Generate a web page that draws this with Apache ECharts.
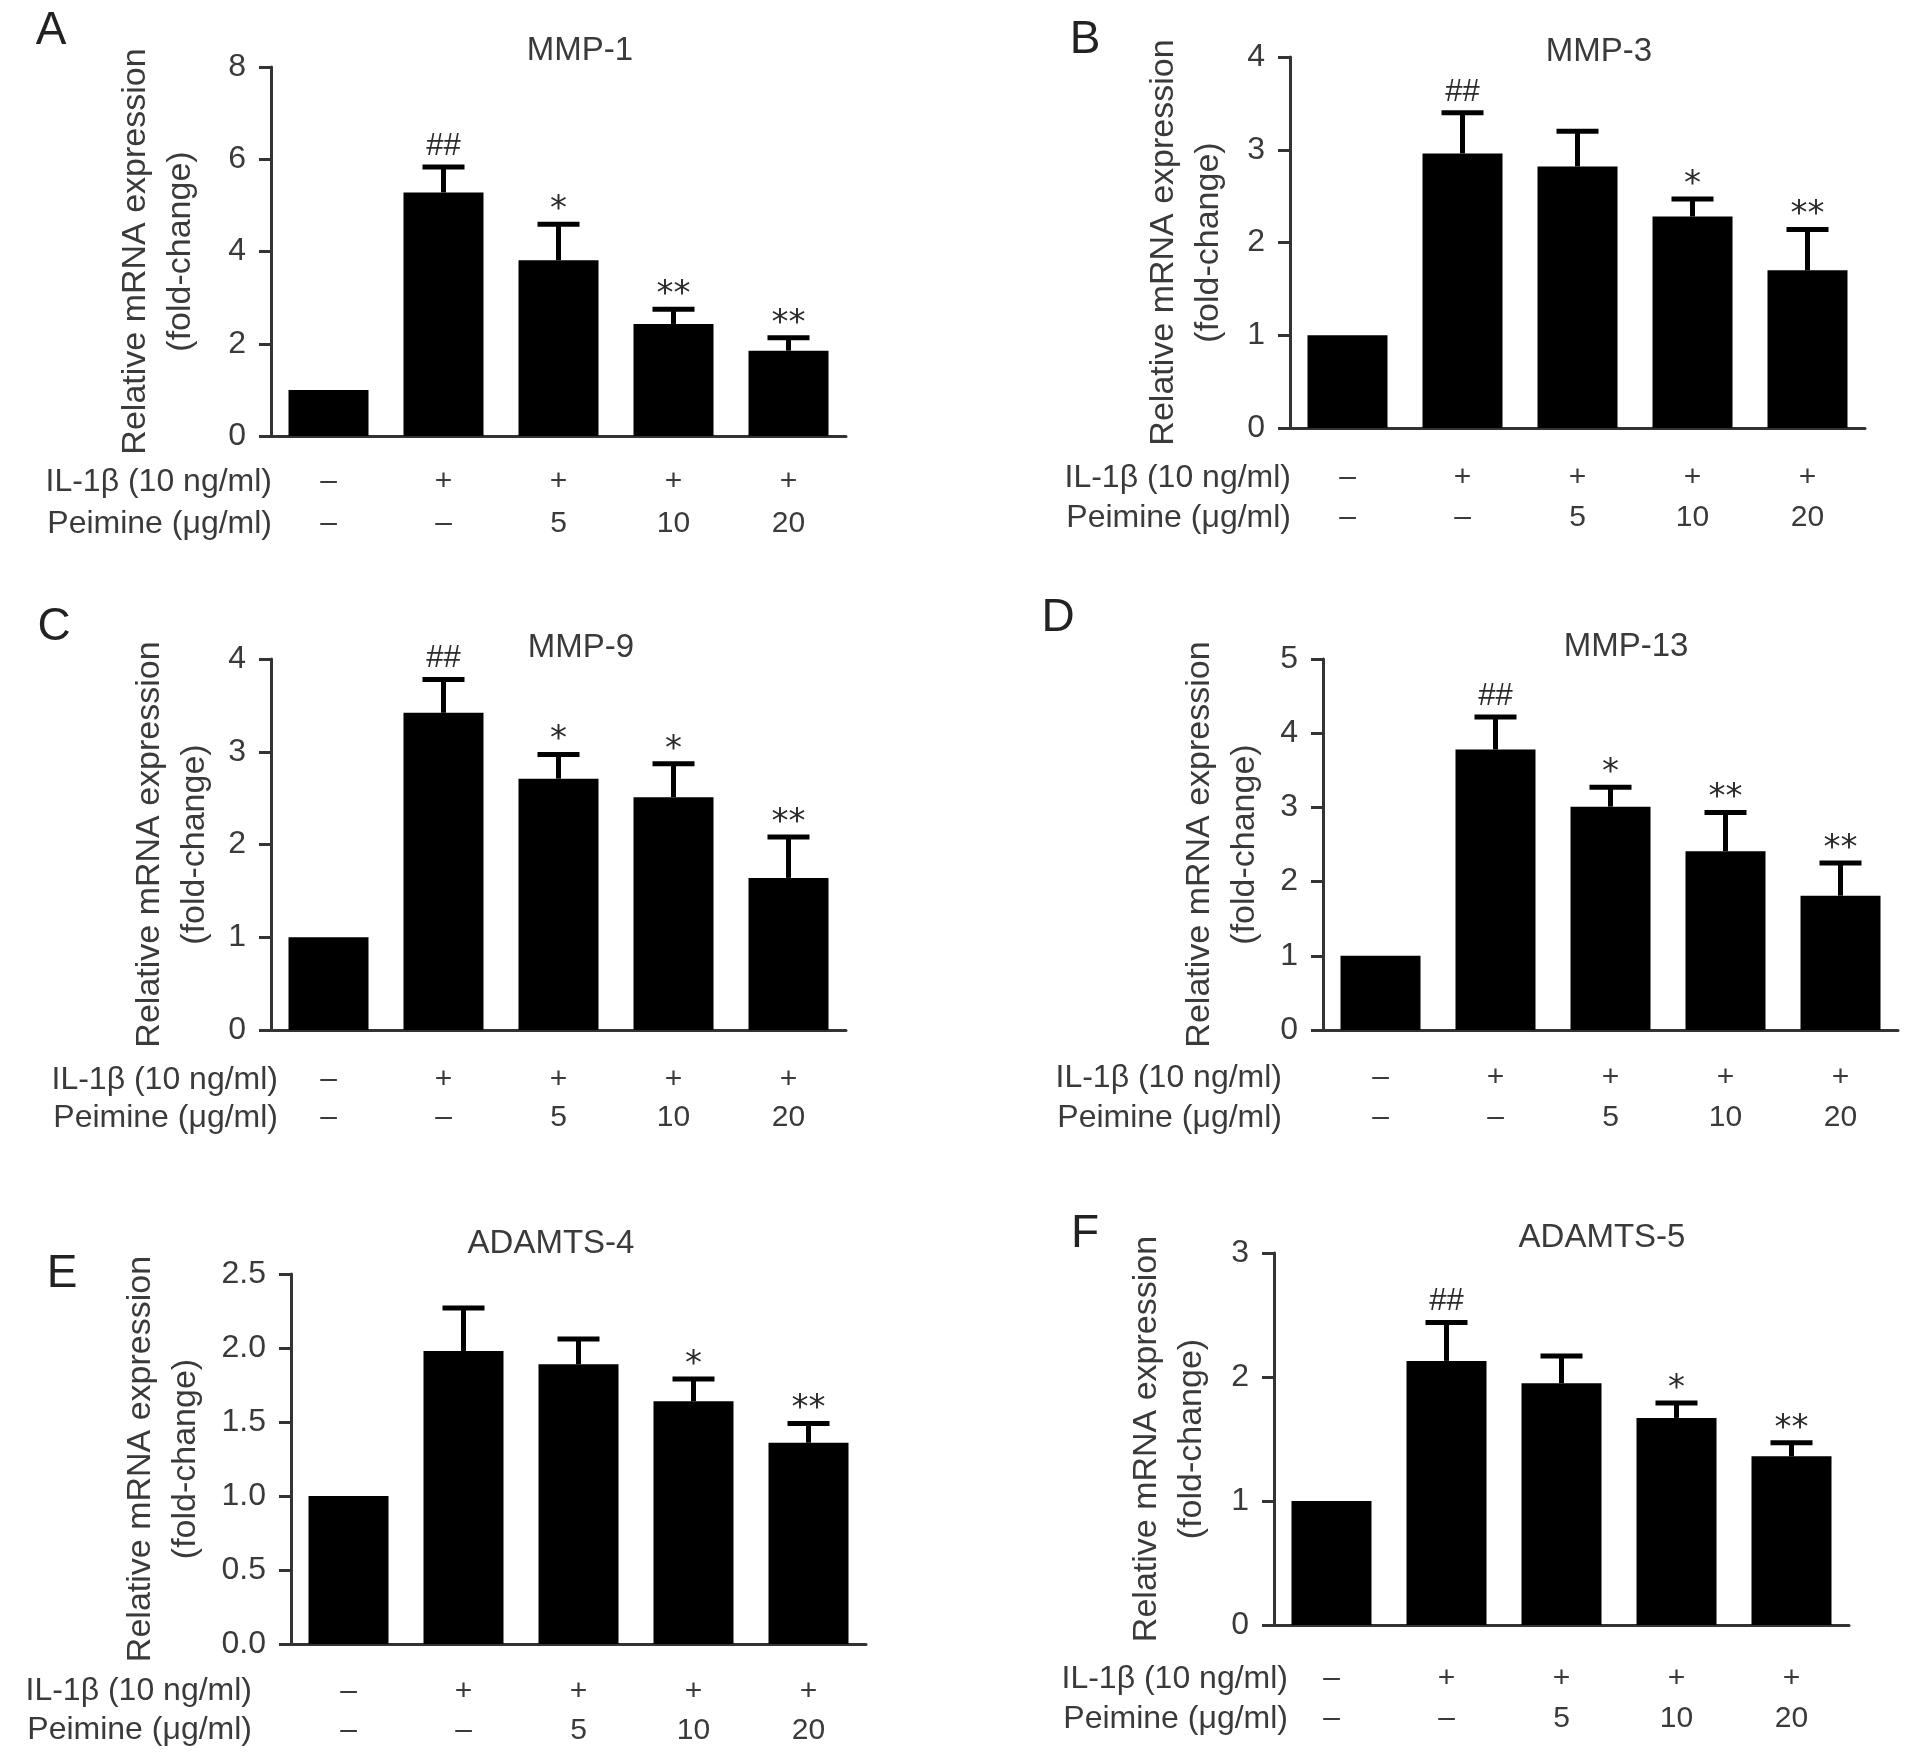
<!DOCTYPE html>
<html>
<head>
<meta charset="utf-8">
<script src="https://cdn.jsdelivr.net/npm/echarts@6/dist/echarts.min.js"></script>
<style>
  html, body { margin: 0; padding: 0; background: #fff; }
  #chart { width: 1913px; height: 1760px; }
</style>
</head>
<body>
<div id="chart"></div>
<script>
// treatment rows under each x axis
const il1bRow = ['–', '+', '+', '+', '+']
const peimineRow = ['–', '–', '5', '10', '20']
const rowTitles = ['IL-1β (10 ng/ml)', 'Peimine (μg/ml)']

// mean fold-change and SD (upper whisker only)
const mmp1Mean = [1.0, 5.28, 3.81, 2.43, 1.85]
const mmp1Sd = [0, 0.55, 0.78, 0.32, 0.28]
const mmp1Marks = ['', '##', '*', '**', '**']

const mmp3Mean = [1.0, 2.96, 2.82, 2.28, 1.70]
const mmp3Sd = [0, 0.44, 0.38, 0.19, 0.44]
const mmp3Marks = ['', '##', '', '*', '**']

const mmp9Mean = [1.0, 3.42, 2.71, 2.51, 1.64]
const mmp9Sd = [0, 0.36, 0.26, 0.36, 0.44]
const mmp9Marks = ['', '##', '*', '*', '**']

const mmp13Mean = [1.0, 3.78, 3.01, 2.41, 1.81]
const mmp13Sd = [0, 0.44, 0.26, 0.52, 0.44]
const mmp13Marks = ['', '##', '*', '**', '**']

const adamts4Mean = [1.0, 1.98, 1.89, 1.64, 1.36]
const adamts4Sd = [0, 0.29, 0.17, 0.15, 0.13]
const adamts4Marks = ['', '', '', '*', '**']

const adamts5Mean = [1.0, 2.13, 1.95, 1.67, 1.36]
const adamts5Sd = [0, 0.31, 0.22, 0.12, 0.11]
const adamts5Marks = ['', '##', '', '*', '**']

const FONT = 'Liberation Sans'
const TEXT = '#3a3a3a'
const AXIS = '#333'

// one entry per sub-plot: data refs + where it sits on the page
const panels = [
  { letter: 'A', title: 'MMP-1', mean: mmp1Mean, sd: mmp1Sd, marks: mmp1Marks, max: 8, interval: 2, dec: 0,
    left: 271, top: 67, height: 369, nameGap: 68, labelMargin: 25, rowGap: 42, rowRight: 272,
    letterPos: [51, 31], titlePos: [580, 51] },
  { letter: 'B', title: 'MMP-3', mean: mmp3Mean, sd: mmp3Sd, marks: mmp3Marks, max: 4, interval: 1, dec: 0,
    left: 1290, top: 57, height: 371, nameGap: 59, labelMargin: 30, rowGap: 40, rowRight: 1291,
    letterPos: [1085, 40], titlePos: [1599, 52] },
  { letter: 'C', title: 'MMP-9', mean: mmp9Mean, sd: mmp9Sd, marks: mmp9Marks, max: 4, interval: 1, dec: 0,
    left: 271, top: 659, height: 371, nameGap: 54, labelMargin: 31, rowGap: 38, rowRight: 278,
    letterPos: [54, 627], titlePos: [581, 648] },
  { letter: 'D', title: 'MMP-13', mean: mmp13Mean, sd: mmp13Sd, marks: mmp13Marks, max: 5, interval: 1, dec: 0,
    left: 1323, top: 659, height: 371, nameGap: 56, labelMargin: 28, rowGap: 40, rowRight: 1282,
    letterPos: [1058, 618], titlePos: [1626, 647] },
  { letter: 'E', title: 'ADAMTS-4', mean: adamts4Mean, sd: adamts4Sd, marks: adamts4Marks, max: 2.5, interval: 0.5, dec: 1,
    left: 291, top: 1274, height: 370, nameGap: 83, labelMargin: 28, rowGap: 39, rowRight: 252,
    letterPos: [62, 1274], titlePos: [551, 1244] },
  { letter: 'F', title: 'ADAMTS-5', mean: adamts5Mean, sd: adamts5Sd, marks: adamts5Marks, max: 3, interval: 1, dec: 0,
    left: 1274, top: 1253, height: 372, nameGap: 60, labelMargin: 34, rowGap: 40, rowRight: 1288,
    letterPos: [1085, 1234], titlePos: [1602, 1238] }
]

const categories = il1bRow.map((v, i) => v + '\n' + peimineRow[i])

const grid = [], xAxis = [], yAxis = [], series = [], graphic = []

panels.forEach((p, i) => {
  grid.push({ left: p.left, top: p.top, width: 575, height: p.height, containLabel: false })

  xAxis.push({
    type: 'category', gridIndex: i, data: categories,
    axisLine: { lineStyle: { color: AXIS, width: 3 } },
    axisTick: { alignWithLabel: true, length: 12, lineStyle: { color: AXIS, width: 3 } },
    axisLabel: {
      margin: p.labelMargin, color: TEXT, fontFamily: FONT, fontSize: 30,
      lineHeight: p.rowGap, verticalAlign: 'top'
    }
  })

  yAxis.push({
    type: 'value', gridIndex: i, min: 0, max: p.max, interval: p.interval,
    name: 'Relative mRNA expression\n(fold-change)',
    nameLocation: 'middle', nameRotate: 90, nameGap: p.nameGap,
    nameTextStyle: { color: TEXT, fontFamily: FONT, fontSize: 34, lineHeight: 45 },
    axisLine: { show: true, lineStyle: { color: AXIS, width: 3 } },
    axisTick: { show: true, length: 12, lineStyle: { color: AXIS, width: 3 } },
    splitLine: { show: false },
    axisLabel: {
      margin: 25, color: TEXT, fontFamily: FONT, fontSize: 32,
      formatter: v => v.toFixed(p.dec)
    }
  })

  series.push({
    type: 'bar', xAxisIndex: i, yAxisIndex: i, data: p.mean,
    barWidth: 80, itemStyle: { color: '#000' }, silent: true
  })

  // upper whisker + cap + significance mark
  series.push({
    type: 'custom', xAxisIndex: i, yAxisIndex: i, z: 3, silent: true,
    data: p.mean.map((m, j) => [j, m, m + p.sd[j]]),
    renderItem: (params, api) => {
      const base = api.coord([api.value(0), api.value(1)])
      const tip = api.coord([api.value(0), api.value(2)])
      const children = []
      if (api.value(2) > api.value(1)) {
        children.push({
          type: 'line', shape: { x1: base[0], y1: base[1], x2: tip[0], y2: tip[1] },
          style: { stroke: '#000', lineWidth: 5 }
        })
        children.push({
          type: 'line', shape: { x1: tip[0] - 21, y1: tip[1], x2: tip[0] + 21, y2: tip[1] },
          style: { stroke: '#000', lineWidth: 5 }
        })
      }
      const mark = p.marks[params.dataIndex]
      if (mark) {
        const star = mark.charAt(0) === '*'
        children.push({
          type: 'text', x: tip[0], y: star ? tip[1] + 3 : tip[1] - 5,
          style: {
            text: mark, fill: '#2a2a2a',
            font: star ? '34px "DejaVu Sans"' : '31px "' + FONT + '"',
            textAlign: 'center', textVerticalAlign: 'bottom'
          }
        })
      }
      return { type: 'group', children }
    }
  })

  // panel letter, title and the row names left of the x labels
  graphic.push({
    type: 'text', x: p.letterPos[0], y: p.letterPos[1],
    style: { text: p.letter, fill: '#222', font: '46px "' + FONT + '"', textAlign: 'center', textVerticalAlign: 'middle' }
  })
  graphic.push({
    type: 'text', x: p.titlePos[0], y: p.titlePos[1],
    style: { text: p.title, fill: TEXT, font: '33px "' + FONT + '"', textAlign: 'center', textVerticalAlign: 'middle' }
  })
  const axisY = p.top + p.height
  rowTitles.forEach((t, r) => {
    graphic.push({
      type: 'text', x: p.rowRight, y: axisY + p.labelMargin + p.rowGap * (r + 0.5),
      style: { text: t, fill: TEXT, font: '32px "' + FONT + '"', textAlign: 'right', textVerticalAlign: 'middle' }
    })
  })
})

const myChart = echarts.init(document.getElementById('chart'), null, { renderer: 'canvas' })
myChart.setOption({
  animation: false,
  backgroundColor: '#fff',
  grid, xAxis, yAxis, series, graphic
})
</script>
</body>
</html>
